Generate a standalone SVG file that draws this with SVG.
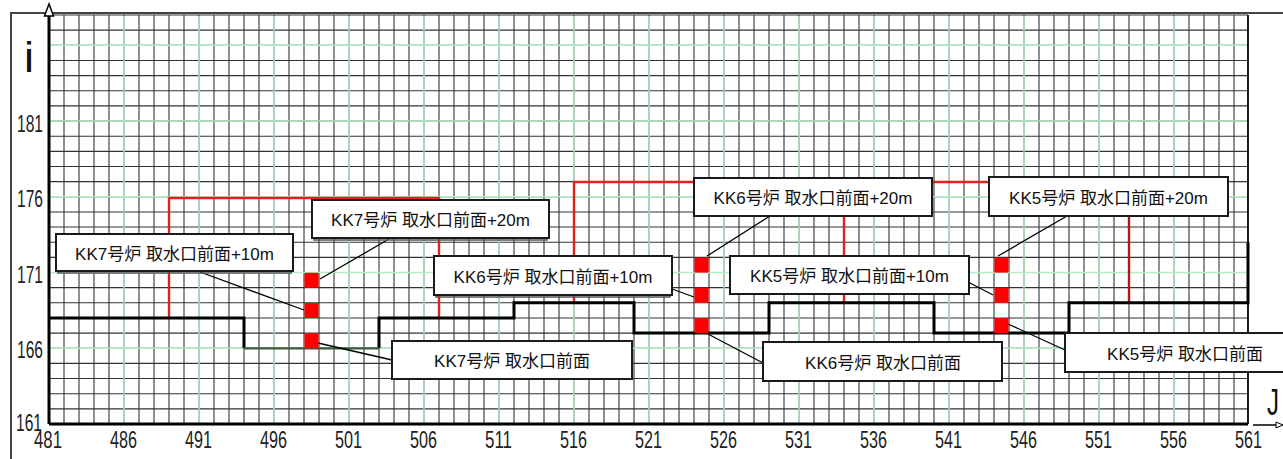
<svg xmlns="http://www.w3.org/2000/svg" width="1283" height="459" viewBox="0 0 1283 459">
<style>
.grid{fill:none;stroke:#333;stroke-width:1.1}
.gridg{fill:none;stroke:#b5ebc5;stroke-width:1.5}
.red{fill:none;stroke:#e0221e;stroke-width:2.4}
.step{fill:none;stroke:#000;stroke-width:3}
.lead{fill:none;stroke:#000;stroke-width:1.3}
.sq{fill:#ff0000}
.box{fill:#fff;stroke:#1a1a1a;stroke-width:2}
.sh{fill:none;stroke:#555;stroke-width:1.5}
.lbl{font-family:"Liberation Sans","Noto Sans CJK JP",sans-serif;font-size:17px;fill:#111;text-anchor:middle}
.ax{font-family:"Liberation Sans",Arial,sans-serif;font-size:23px;fill:#222}
</style>
<rect width="1283" height="459" fill="#fff"/>
<path d="M11 459V13H1283" fill="none" stroke="#444" stroke-width="2"/>
<g id="grid">
<path class="grid" d="M64 15V424M79 15V424M94 15V424M109 15V424M124 15V424M139 15V424M154 15V424M169 15V424M184 15V424M199 15V424M214 15V424M229 15V424M244 15V424M259 15V424M274 15V424M289 15V424M304 15V424M319 15V424M334 15V424M349 15V424M364 15V424M379 15V424M394 15V424M409 15V424M424 15V424M439 15V424M454 15V424M469 15V424M484 15V424M499 15V424M514 15V424M529 15V424M544 15V424M559 15V424M574 15V424M589 15V424M604 15V424M619 15V424M634 15V424M649 15V424M664 15V424M679 15V424M694 15V424M709 15V424M724 15V424M739 15V424M754 15V424M769 15V424M784 15V424M799 15V424M814 15V424M829 15V424M844 15V424M859 15V424M874 15V424M889 15V424M904 15V424M919 15V424M934 15V424M949 15V424M964 15V424M979 15V424M994 15V424M1009 15V424M1024 15V424M1039 15V424M1054 15V424M1069 15V424M1084 15V424M1099 15V424M1114 15V424M1129 15V424M1144 15V424M1159 15V424M1174 15V424M1189 15V424M1204 15V424M1219 15V424M1234 15V424"/>
<path class="grid" d="M49 408.85H1248M49 393.7H1248M49 378.56H1248M49 363.41H1248M49 348.26H1248M49 333.11H1248M49 317.96H1248M49 302.81H1248M49 287.67H1248M49 272.52H1248M49 257.37H1248M49 242.22H1248M49 227.07H1248M49 211.93H1248M49 196.78H1248M49 181.63H1248M49 166.48H1248M49 151.33H1248M49 136.19H1248M49 121.04H1248M49 105.89H1248M49 90.74H1248M49 75.59H1248M49 60.44H1248M49 45.3H1248M49 30.15H1248M49 15H1248"/>
<path class="gridg" d="M124 16V423M199 16V423M274 16V423M349 16V423M424 16V423M499 16V423M574 16V423M649 16V423M724 16V423M799 16V423M874 16V423M949 16V423M1024 16V423M1099 16V423M1174 16V423M50 348.26H1247M50 272.52H1247M50 196.78H1247M50 121.04H1247M50 45.3H1247"/>
</g>
<g id="connectors">
<path class="red" d="M169 318V198H439V318"/>
<path class="red" d="M574 303V182H1129M844 182V303"/>
<path d="M1129 182V303" fill="none" stroke="#b01818" stroke-width="2.4"/>
<path class="step" d="M49 318H244V348.3M379 348.3V318H514V302.8H634V333.1H769V302.8H934V333.1H1069V302.8H1248V242.2"/>
<path d="M244 348.3H379" fill="none" stroke="#3d5a3d" stroke-width="2.2"/>
<path d="M1248 15V424" fill="none" stroke="#000" stroke-width="1.8"/>
<path d="M49 424H1248M49 424V16" fill="none" stroke="#000" stroke-width="3"/>
<path d="M49 4L44.5 16H53.5Z" fill="#fff" stroke="#000" stroke-width="1.5"/>
<path d="M1253 425H1280" fill="none" stroke="#000" stroke-width="1.5"/>
<path d="M1283 425L1276 422V428Z" fill="#fff" stroke="#000" stroke-width="1"/>
<path class="lead" d="M200 272L304 310M389 239L320 279M318 343L392 360M770 216L707 256M672 289L694 297M708 334L763 363M1067 216L998 256M968 282L993 295M1008 324L1065 350"/>
</g>
<g id="markers">
<rect class="sq" x="304.5" y="272.8" width="14" height="15"/>
<rect class="sq" x="304.5" y="303" width="14" height="15"/>
<rect class="sq" x="304.5" y="333.3" width="14" height="15"/>
<rect class="sq" x="694.5" y="257.6" width="14" height="15"/>
<rect class="sq" x="694.5" y="287.8" width="14" height="15"/>
<rect class="sq" x="694.5" y="318.1" width="14" height="15"/>
<rect class="sq" x="994.5" y="257.6" width="14" height="15"/>
<rect class="sq" x="994.5" y="287.8" width="14" height="15"/>
<rect class="sq" x="994.5" y="318.1" width="14" height="15"/>
</g>
<g id="nodeA">
<rect class="sh" x="58" y="236" width="233" height="37"/>
<rect class="box" x="56" y="234" width="237" height="37"/>
<text class="lbl" x="174.5" y="259.5">KK7号炉 取水口前面+10m</text>
</g>
<g id="nodeB">
<rect class="sh" x="314" y="202" width="233" height="38"/>
<rect class="box" x="312" y="200" width="237" height="38"/>
<text class="lbl" x="430.5" y="226">KK7号炉 取水口前面+20m</text>
</g>
<g id="nodeC">
<rect class="sh" x="436" y="258" width="234" height="39"/>
<rect class="box" x="434" y="256" width="238" height="39"/>
<text class="lbl" x="553" y="282.5">KK6号炉 取水口前面+10m</text>
</g>
<g id="nodeD">
<rect class="box" x="392" y="341" width="240" height="38"/>
<text class="lbl" x="512" y="366.5">KK7号炉 取水口前面</text>
</g>
<g id="nodeE">
<rect class="box" x="694" y="178" width="238" height="38"/>
<text class="lbl" x="813" y="204">KK6号炉 取水口前面+20m</text>
</g>
<g id="nodeF">
<rect class="box" x="730" y="256" width="239" height="38"/>
<text class="lbl" x="849.5" y="282">KK5号炉 取水口前面+10m</text>
</g>
<g id="nodeG">
<rect class="box" x="763" y="342" width="239" height="39"/>
<text class="lbl" x="883" y="368.5">KK6号炉 取水口前面</text>
</g>
<g id="nodeH">
<rect class="box" x="989" y="177" width="239" height="39"/>
<text class="lbl" x="1108.5" y="203.5">KK5号炉 取水口前面+20m</text>
</g>
<g id="nodeI">
<rect class="box" x="1065" y="333" width="240" height="39"/>
<text class="lbl" x="1185" y="359.5">KK5号炉 取水口前面</text>
</g>
<g id="axis-labels">
<text x="24" y="72" font-family="Liberation Sans, sans-serif" font-size="42" fill="#111" textLength="10" lengthAdjust="spacingAndGlyphs">i</text>
<text x="1267" y="415" font-family="Liberation Sans, sans-serif" font-size="37" fill="#111" textLength="12" lengthAdjust="spacingAndGlyphs">J</text>
<text class="ax" x="17" y="132" textLength="26" lengthAdjust="spacingAndGlyphs">181</text>
<text class="ax" x="17" y="207" textLength="26" lengthAdjust="spacingAndGlyphs">176</text>
<text class="ax" x="17" y="283" textLength="26" lengthAdjust="spacingAndGlyphs">171</text>
<text class="ax" x="17" y="358" textLength="26" lengthAdjust="spacingAndGlyphs">166</text>
<text class="ax" x="16" y="431" textLength="26" lengthAdjust="spacingAndGlyphs">161</text>
<text class="ax" x="34" y="448" textLength="28" lengthAdjust="spacingAndGlyphs">481</text>
<text class="ax" x="110" y="448" textLength="27" lengthAdjust="spacingAndGlyphs">486</text>
<text class="ax" x="185" y="448" textLength="27" lengthAdjust="spacingAndGlyphs">491</text>
<text class="ax" x="260" y="448" textLength="27" lengthAdjust="spacingAndGlyphs">496</text>
<text class="ax" x="335" y="448" textLength="27" lengthAdjust="spacingAndGlyphs">501</text>
<text class="ax" x="410" y="448" textLength="27" lengthAdjust="spacingAndGlyphs">506</text>
<text class="ax" x="485" y="448" textLength="27" lengthAdjust="spacingAndGlyphs">511</text>
<text class="ax" x="560" y="448" textLength="27" lengthAdjust="spacingAndGlyphs">516</text>
<text class="ax" x="635" y="448" textLength="27" lengthAdjust="spacingAndGlyphs">521</text>
<text class="ax" x="710" y="448" textLength="27" lengthAdjust="spacingAndGlyphs">526</text>
<text class="ax" x="785" y="448" textLength="27" lengthAdjust="spacingAndGlyphs">531</text>
<text class="ax" x="860" y="448" textLength="27" lengthAdjust="spacingAndGlyphs">536</text>
<text class="ax" x="935" y="448" textLength="27" lengthAdjust="spacingAndGlyphs">541</text>
<text class="ax" x="1010" y="448" textLength="27" lengthAdjust="spacingAndGlyphs">546</text>
<text class="ax" x="1085" y="448" textLength="27" lengthAdjust="spacingAndGlyphs">551</text>
<text class="ax" x="1160" y="448" textLength="27" lengthAdjust="spacingAndGlyphs">556</text>
<text class="ax" x="1235" y="448" textLength="27" lengthAdjust="spacingAndGlyphs">561</text>
</g>
</svg>
